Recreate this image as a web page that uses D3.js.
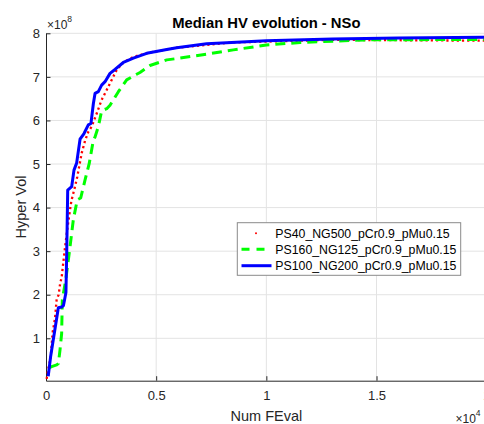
<!DOCTYPE html>
<html>
<head>
<meta charset="utf-8">
<script src="https://cdn.jsdelivr.net/npm/d3@7"></script>
<style>
  body { margin: 0; background: #fff; }
  svg { display: block; font-family: "Liberation Sans", Arial, sans-serif; }
</style>
</head>
<body>
<svg id="chart"></svg>
<script>
// data: x = function evaluations, y = hypervolume in units of 1e8
const redX   = [30, 105, 210, 300, 410, 485, 575, 640, 710, 790, 860, 940, 1045, 1150, 1315, 1420, 1620, 1770, 1920, 2075, 2300, 2525, 2755, 2980, 3210, 3510, 3965, 4720, 5930, 8500, 13000, 20000]
const redY   = [0.07, 0.30, 0.55, 1.13, 1.46, 1.90, 2.00, 2.25, 2.40, 2.76, 3.07, 3.40, 3.79, 4.15, 4.48, 4.71, 5.25, 5.53, 5.74, 5.86, 6.16, 6.47, 6.70, 6.93, 7.16, 7.33, 7.46, 7.56, 7.67, 7.79, 7.85, 7.83]
const greenX = [160, 255, 485, 560, 635, 710, 740, 790, 895, 1015, 1090, 1240, 1420, 1575, 1770, 1965, 2150, 2225, 2375, 2525, 2755, 2905, 3285, 3660, 4115, 4265, 4720, 5480, 5930, 7290, 8500, 10000, 11530, 14550, 20000]
const greenY = [0.33, 0.35, 0.39, 0.42, 0.73, 1.11, 1.88, 2.03, 2.34, 2.80, 3.10, 3.72, 4.18, 4.22, 4.63, 5.02, 5.55, 5.62, 5.86, 6.22, 6.27, 6.35, 6.66, 6.93, 7.06, 7.10, 7.26, 7.39, 7.42, 7.52, 7.62, 7.73, 7.79, 7.85, 7.86]
const blueX  = [100, 210, 560, 710, 790, 840, 905, 940, 985, 1165, 1270, 1390, 1545, 1725, 1920, 2040, 2150, 2225, 2375, 2525, 2680, 2905, 3130, 3510, 3965, 4570, 5480, 5930, 7290, 10000, 13000, 16000, 20000]
const blueY  = [0.13, 0.58, 1.70, 1.72, 1.75, 1.88, 2.05, 2.95, 4.40, 4.48, 4.86, 5.02, 5.57, 5.70, 5.90, 5.93, 6.39, 6.62, 6.66, 6.81, 6.89, 7.08, 7.17, 7.33, 7.43, 7.54, 7.63, 7.67, 7.76, 7.83, 7.87, 7.89, 7.91]

const seriesNames = ['PS40_NG500_pCr0.9_pMu0.15', 'PS160_NG125_pCr0.9_pMu0.15', 'PS100_NG200_pCr0.9_pMu0.15']
const xTicks = [0, 5000, 10000, 15000, 20000]
const yTicks = [1, 2, 3, 4, 5, 6, 7, 8]

const width = 484
const height = 424
const margin = {top: 33.3, left: 46}
const plotW = 440.7
const plotH = 347.4
const axisColor = '#262626'

const svg = d3.select('#chart')
    .attr('width', width)
    .attr('height', height)

const g = svg.append('g')
    .attr('transform', `translate(${margin.left},${margin.top})`)

// scales
const xScale = d3.scaleLinear().domain([0, 20000]).range([0, plotW])
const yScale = d3.scaleLinear().domain([0.027, 8]).range([plotH, 0])

// grid lines
g.append('g')
    .selectAll('line')
    .data(xTicks.slice(1))
    .enter()
    .append('line')
        .attr('x1', d => xScale(d)).attr('x2', d => xScale(d))
        .attr('y1', 0).attr('y2', plotH)
        .attr('stroke', '#e3e3e3')
g.append('g')
    .selectAll('line')
    .data(yTicks)
    .enter()
    .append('line')
        .attr('x1', 0).attr('x2', plotW)
        .attr('y1', d => yScale(d)).attr('y2', d => yScale(d))
        .attr('stroke', '#e3e3e3')

// axes
const xAxis = d3.axisBottom(xScale)
    .tickValues(xTicks)
    .tickFormat(d => d / 10000)
    .tickSizeInner(-4.5)
    .tickSizeOuter(0)
    .tickPadding(10)
const yAxis = d3.axisLeft(yScale)
    .tickValues(yTicks)
    .tickFormat(d => d)
    .tickSizeInner(-4.5)
    .tickSizeOuter(0)
    .tickPadding(6)

const styleAxis = sel => {
    sel.selectAll('path, line').attr('stroke', axisColor)
    sel.selectAll('text').attr('fill', axisColor).style('font-size', '13px')
    sel.attr('font-family', null)
}
g.append('g')
    .attr('transform', `translate(0,${plotH})`)
    .call(xAxis)
    .call(styleAxis)
g.append('g')
    .call(yAxis)
    .call(styleAxis)

// lines
const line = d3.line()
    .x(d => xScale(d[0]))
    .y(d => yScale(d[1]))

const series = [
    {name: seriesNames[0], xs: redX, ys: redY, color: '#ff0000', w: 2.3, dash: '2.2,3'},
    {name: seriesNames[1], xs: greenX, ys: greenY, color: '#00ff00', w: 3, dash: '10,6'},
    {name: seriesNames[2], xs: blueX, ys: blueY, color: '#0000ff', w: 3, dash: null}
]

series.forEach(s => {
    g.append('path')
        .datum(s.xs.map((x, i) => [x, s.ys[i]]))
        .attr('d', line)
        .attr('fill', 'none')
        .attr('stroke', s.color)
        .attr('stroke-width', s.w)
        .attr('stroke-dasharray', s.dash)
        .attr('stroke-linejoin', 'round')
})

// title, labels, exponents
svg.append('text')
    .attr('x', margin.left + plotW / 2).attr('y', 28.3)
    .attr('text-anchor', 'middle')
    .style('font-size', '14.8px').style('font-weight', 'bold')
    .attr('fill', '#000')
    .text('Median HV evolution - NSo')

svg.append('text')
    .attr('x', margin.left + plotW / 2).attr('y', 420.7)
    .attr('text-anchor', 'middle')
    .style('font-size', '14.5px')
    .attr('fill', axisColor)
    .text('Num FEval')

svg.append('text')
    .attr('transform', `translate(26,${margin.top + plotH / 2}) rotate(-90)`)
    .attr('text-anchor', 'middle')
    .style('font-size', '14.5px')
    .attr('fill', axisColor)
    .text('Hyper Vol')

const expLabel = (x, y, base, exp) => {
    const t = svg.append('text')
        .attr('x', x).attr('y', y)
        .attr('fill', axisColor)
        .style('font-size', '12px')
    t.append('tspan').text(base)
    t.append('tspan').attr('dy', -6.5).style('font-size', '8.5px').text(exp)
}
expLabel(47, 28.7, '×10', '8')
expLabel(455.5, 422.5, '×10', '4')

// legend
const legend = svg.append('g')
legend.append('rect')
    .attr('x', 237.3).attr('y', 222.7)
    .attr('width', 223.4).attr('height', 52.6)
    .attr('fill', '#fff')
    .attr('stroke', '#8a8a8a')
    .attr('stroke-width', 1)

const rowY = [233.3, 249.3, 265.7]
series.forEach((s, i) => {
    if (i === 0) {
        legend.append('circle')
            .attr('cx', 256).attr('cy', rowY[i]).attr('r', 1)
            .attr('fill', s.color)
    } else {
        legend.append('line')
            .attr('x1', 241.5).attr('x2', 271.5)
            .attr('y1', rowY[i]).attr('y2', rowY[i])
            .attr('stroke', s.color)
            .attr('stroke-width', s.w)
            .attr('stroke-dasharray', i === 1 ? '8,7' : null)
    }
    legend.append('text')
        .attr('x', 275.3).attr('y', rowY[i] + 4.4)
        .style('font-size', '12.3px')
        .attr('fill', '#000')
        .text(s.name)
})
</script>
</body>
</html>
